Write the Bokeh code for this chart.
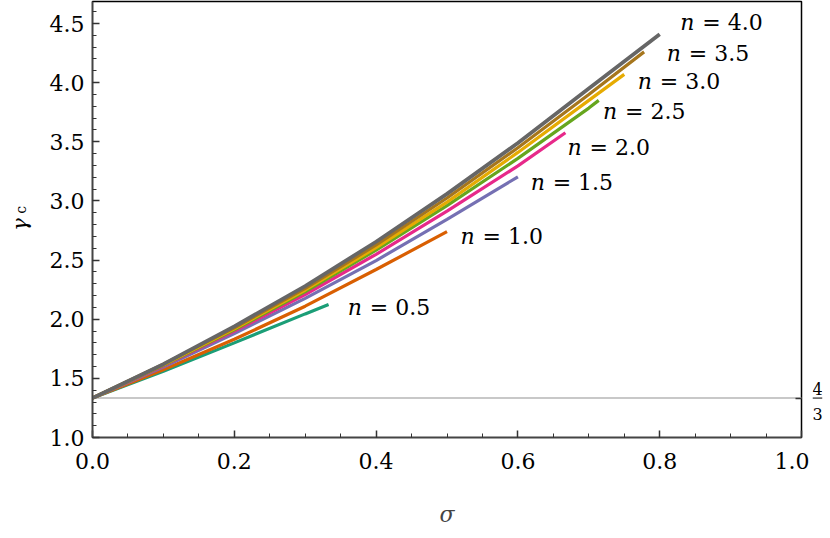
import math
from bokeh.plotting import figure
from bokeh.layouts import row
from bokeh.models import (Range1d, LinearAxis, FixedTicker, SingleIntervalTicker,
                          PrintfTickFormatter, Span, ColumnDataSource)
from bokeh.core.properties import value
from bokeh.embed import file_html
from bokeh.resources import INLINE

# ---- data ----
n_values = ["0.5", "1.0", "1.5", "2.0", "2.5", "3.0", "3.5", "4.0"]
colors = ["#1b9e77", "#d95f02", "#7570b3", "#e7298a", "#66a61e", "#e6ab02", "#a6761d", "#666666"]

sigma_n05 = [0.0, 0.1, 0.2, 0.3, 0.333]
gamma_n05 = [1.333, 1.560, 1.800, 2.045, 2.125]
sigma_n10 = [0.0, 0.1, 0.2, 0.3, 0.4, 0.5]
gamma_n10 = [1.333, 1.573, 1.830, 2.110, 2.420, 2.740]
sigma_n15 = [0.0, 0.1, 0.2, 0.3, 0.4, 0.5, 0.6]
gamma_n15 = [1.333, 1.596, 1.879, 2.176, 2.496, 2.844, 3.204]
sigma_n20 = [0.0, 0.1, 0.2, 0.3, 0.4, 0.5, 0.6, 0.667]
gamma_n20 = [1.333, 1.605, 1.900, 2.209, 2.549, 2.913, 3.296, 3.576]
sigma_n25 = [0.0, 0.1, 0.2, 0.3, 0.4, 0.5, 0.6, 0.7, 0.714]
gamma_n25 = [1.333, 1.611, 1.910, 2.233, 2.584, 2.960, 3.360, 3.785, 3.850]
sigma_n30 = [0.0, 0.1, 0.2, 0.3, 0.4, 0.5, 0.6, 0.7, 0.75]
gamma_n30 = [1.333, 1.615, 1.919, 2.247, 2.605, 2.990, 3.410, 3.850, 4.070]
sigma_n35 = [0.0, 0.1, 0.2, 0.3, 0.4, 0.5, 0.6, 0.7, 0.778]
gamma_n35 = [1.333, 1.620, 1.928, 2.261, 2.628, 3.025, 3.450, 3.900, 4.260]
sigma_n40 = [0.0, 0.1, 0.2, 0.3, 0.4, 0.5, 0.6, 0.7, 0.8]
gamma_n40 = [1.333, 1.620, 1.940, 2.280, 2.655, 3.060, 3.490, 3.950, 4.410]

label_sigma = [0.36, 0.519, 0.618, 0.67, 0.72, 0.769, 0.81, 0.829]
label_gamma = [2.10, 2.70, 3.155, 3.45, 3.76, 4.01, 4.25, 4.51]

gamma_newtonian = 4.0 / 3.0

x_ticks_interval = 0.2
y_ticks_interval = 0.5

curves = [(sigma_n05, gamma_n05), (sigma_n10, gamma_n10), (sigma_n15, gamma_n15),
          (sigma_n20, gamma_n20), (sigma_n25, gamma_n25), (sigma_n30, gamma_n30),
          (sigma_n35, gamma_n35), (sigma_n40, gamma_n40)]

FONT = "DejaVu Serif"
H = 530
BT, BB = 1, 93
LW = 42  # width of the left label strip

y_range = Range1d(1.0, 4.686)

p = figure(width=809 - LW, height=H, output_backend="svg", toolbar_location=None,
           x_range=Range1d(0.0, 1.0), y_range=y_range,
           min_border_left=92 - LW, min_border_right=8, min_border_top=BT, min_border_bottom=BB)
p.grid.visible = False
p.outline_line_color = "black"
p.outline_line_width = 1.5

# axes
p.xaxis.ticker = SingleIntervalTicker(interval=x_ticks_interval, num_minor_ticks=4)
p.yaxis.ticker = SingleIntervalTicker(interval=y_ticks_interval, num_minor_ticks=5)
for ax in (p.xaxis[0], p.yaxis[0]):
    ax.formatter = PrintfTickFormatter(format="%.1f")
    ax.major_tick_in = 7
    ax.major_tick_out = 0
    ax.minor_tick_in = 4
    ax.minor_tick_out = 0
    ax.axis_line_color = "#444444"
    ax.axis_line_width = 1.5
    ax.major_tick_line_color = "#333333"
    ax.major_tick_line_width = 1.5
    ax.minor_tick_line_color = "#333333"
    ax.minor_tick_line_width = 1
    ax.major_label_text_font = FONT
    ax.major_label_text_font_size = "22px"
    ax.major_label_text_color = "black"
p.xaxis.major_label_standoff = 15
p.yaxis.major_label_standoff = 8
p.xaxis.axis_label = "σ"
p.xaxis.axis_label_text_font = FONT
p.xaxis.axis_label_text_font_style = "italic"
p.xaxis.axis_label_text_font_size = "22px"
p.xaxis.axis_label_standoff = 30

# right axis with single 4/3 tick
rax = LinearAxis(ticker=FixedTicker(ticks=[gamma_newtonian], minor_ticks=[]))
rax.axis_line_color = None
rax.major_tick_in = 6
rax.major_tick_out = 0
rax.major_tick_line_color = "#333333"
rax.major_tick_line_width = 1.5
rax.major_label_text_font_size = "0px"
rax.major_label_text_alpha = 0
rax.major_label_standoff = 0
p.add_layout(rax, "right")

# reference line 4/3
p.add_layout(Span(location=gamma_newtonian, dimension="width", line_color="#c8c8c8",
                  line_width=2, level="underlay"))

for (s, g), c in zip(curves, colors):
    p.line(s, g, line_color=c, line_width=3.2 if c != "#666666" else 3.8)

# curve labels
src = ColumnDataSource(dict(x=label_sigma, y=label_gamma,
                            n=["n"] * len(n_values),
                            t=["= " + v for v in n_values]))
p.text(x="x", y="y", text="n", source=src, text_font=value(FONT), text_font_style="italic",
       text_font_size="22px", text_baseline="middle", text_align="left", text_color="black")
p.text(x="x", y="y", text="t", source=src, text_font=value(FONT),
       text_font_size="22px", text_baseline="middle", text_align="left", text_color="black",
       x_offset=22)


def side_figure(width, xr, border_left=0, border_right=0):
    f = figure(width=width, height=H, output_backend="svg", toolbar_location=None,
               x_range=xr, y_range=y_range, x_axis_location=None, y_axis_location=None,
               min_border_left=border_left, min_border_right=border_right,
               min_border_top=BT, min_border_bottom=BB)
    f.grid.visible = False
    f.outline_line_color = None
    return f


# left: y axis label gamma_c (rotated, reading bottom to top)
left = side_figure(LW, Range1d(0, LW))
left.text(x=[19], y=[2.80], text=["γ"], angle=math.pi / 2, text_font=value(FONT),
          text_font_size="21px", text_font_style="italic",
          text_align="center", text_baseline="middle", text_color="black")
left.text(x=[20], y=[2.925], text=["c"], angle=math.pi / 2, text_font=value(FONT),
          text_font_size="14px",
          text_align="center", text_baseline="middle", text_color="black")

# right: fraction 4/3
right = side_figure(14, Range1d(0, 10), border_left=3, border_right=1)
right.text(x=[5], y=[gamma_newtonian + 0.078], text=["4"], text_font=value(FONT),
           text_font_size="16px", text_align="center", text_baseline="middle",
           text_color="black")
right.text(x=[5], y=[gamma_newtonian - 0.135], text=["3"], text_font=value(FONT),
           text_font_size="16px", text_align="center", text_baseline="middle",
           text_color="black")
right.add_layout(Span(location=gamma_newtonian, dimension="width", line_color="black",
                      line_width=1))

layout = row(left, p, right, spacing=0)
open("out.html", "w").write(file_html(layout, INLINE))
